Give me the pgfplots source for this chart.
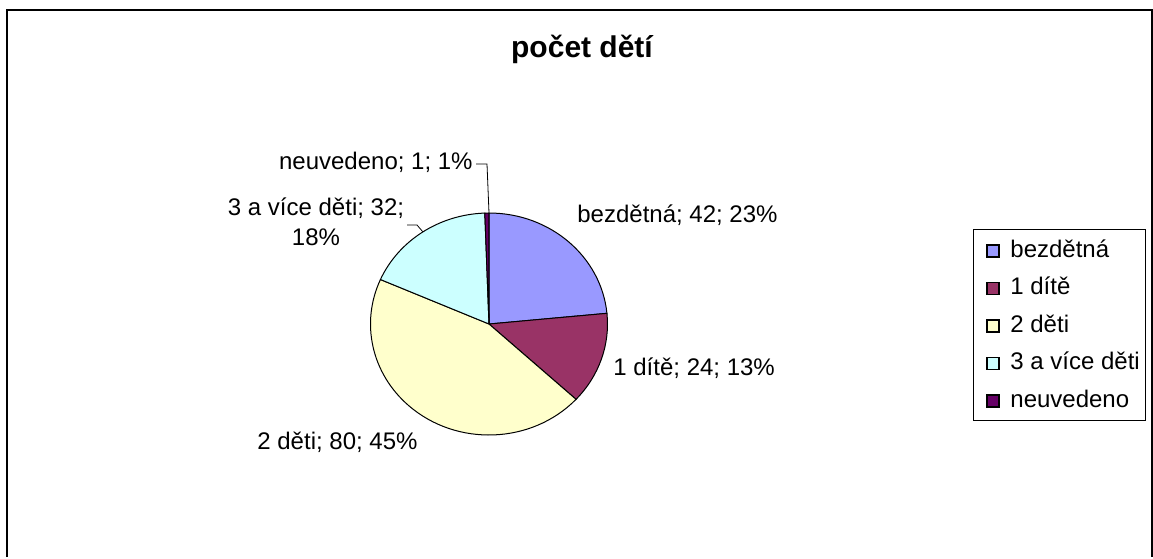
\documentclass[border=0pt]{standalone}
\usepackage{pgfplots}
\pgfplotsset{compat=1.18}
\usepackage{pgfplotstable}
\usepackage{fontspec}
\setmainfont{Liberation Sans}

\definecolor{pc0}{HTML}{9999FF}
\definecolor{pc1}{HTML}{993366}
\definecolor{pc2}{HTML}{FFFFCC}
\definecolor{pc3}{HTML}{CCFFFF}
\definecolor{pc4}{HTML}{660066}

% pocet deti: bezdetna, 1 dite, 2 deti, 3 a vice deti, neuvedeno
\pgfplotstableread{
v
42
24
80
32
1
}\pietab

\begin{document}
\begin{tikzpicture}[lbl/.style={font=\fontsize{12}{14}\selectfont, inner sep=0pt}]
% total and cumulative angles (clockwise from 12 o'clock)
\xdef\total{0}
\foreach \i in {0,...,4}{%
  \pgfplotstablegetelem{\i}{v}\of\pietab
  \pgfmathparse{\total+\pgfplotsretval}\xdef\total{\pgfmathresult}}
\xdef\cum{90}
\foreach \i in {0,...,4}{%
  \pgfplotstablegetelem{\i}{v}\of\pietab
  \expandafter\xdef\csname startA\i\endcsname{\cum}%
  \pgfmathparse{\cum-\pgfplotsretval/\total*360}%
  \expandafter\xdef\csname endA\i\endcsname{\pgfmathresult}%
  \xdef\cum{\pgfmathresult}}

\begin{axis}[
  width=576.5pt, height=278.5pt, scale only axis,
  xmin=0, xmax=1153, ymin=0, ymax=557, y dir=reverse,
  axis lines=none, clip=false,
]
\path (axis cs:0,0) rectangle (axis cs:1153,557);
% outer frame
\draw[line width=1pt] (axis cs:7,557) -- (axis cs:7,10) -- (axis cs:1152,10) -- (axis cs:1152,557);

% title
\node[lbl, anchor=base, font=\fontsize{15}{17}\selectfont\bfseries] at (axis cs:582,57) {počet dětí};

% wedges
\pgfplotsinvokeforeach{0,...,4}{
  \filldraw[fill=pc#1, draw=black, line width=0.5pt]
    (axis cs:489,324) -- ++({\csname startA#1\endcsname}:59.25pt and 55.5pt)
    arc[start angle={\csname startA#1\endcsname}, end angle={\csname endA#1\endcsname},
        x radius=59.25pt, y radius=55.5pt] -- cycle;
}

% data labels
\node[lbl, anchor=base west] at (axis cs:577,222) {bezdětná; 42; 23\%};
\node[lbl, anchor=base west] at (axis cs:613,375) {1 dítě; 24; 13\%};
\node[lbl, anchor=base west] at (axis cs:257,449) {2 děti; 80; 45\%};
\node[lbl, anchor=base] at (axis cs:316,215) {3 a více děti; 32;};
\node[lbl, anchor=base] at (axis cs:316,245) {18\%};
\node[lbl, anchor=base east] at (axis cs:473,169) {neuvedeno; 1; 1\%};
% leader lines
\draw[line width=0.4pt] (axis cs:476,164) -- (axis cs:487,164) -- (axis cs:489,213);
\draw[line width=0.4pt] (axis cs:407,225) -- (axis cs:417,225) -- (axis cs:423,232);

% legend
\draw[line width=0.5pt] (axis cs:973,229) rectangle (axis cs:1145,420);
\node[lbl, anchor=base west] at (axis cs:1010,257) {bezdětná};
\node[lbl, anchor=base west] at (axis cs:1010,294.5) {1 dítě};
\node[lbl, anchor=base west] at (axis cs:1010,332) {2 děti};
\node[lbl, anchor=base west] at (axis cs:1010,369.5) {3 a více děti};
\node[lbl, anchor=base west] at (axis cs:1010,407) {neuvedeno};
\pgfplotsinvokeforeach{0,...,4}{
  \filldraw[fill=pc#1, draw=black, line width=0.6pt]
    (axis cs:987,{245+37.5*#1}) rectangle (axis cs:999,{257+37.5*#1});
}
\end{axis}
\end{tikzpicture}
\end{document}
